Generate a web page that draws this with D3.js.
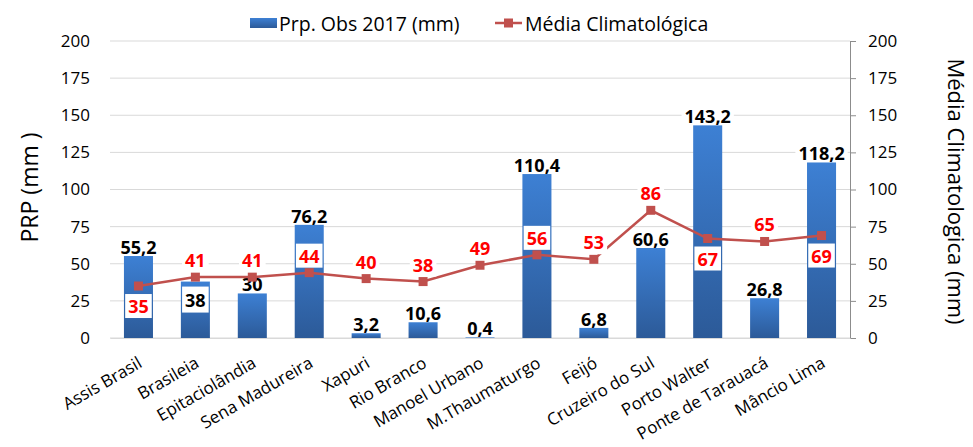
<!DOCTYPE html>
<html>
<head>
<meta charset="utf-8">
<script src="https://cdn.jsdelivr.net/npm/d3@7"></script>
<style>
  body { margin: 0; background: #fff; }
  text { font-family: "Open Sans", sans-serif; }
</style>
</head>
<body>
<div id="viz"></div>
<script>
// data
var cities = ['Assis Brasil', 'Brasileia', 'Epitaciolândia', 'Sena Madureira', 'Xapuri',
  'Rio Branco', 'Manoel Urbano', 'M.Thaumaturgo', 'Feijó', 'Cruzeiro do Sul',
  'Porto Walter', 'Ponte de Tarauacá', 'Mâncio Lima'];
var obs2017 = [55.2, 38, 30, 76.2, 3.2, 10.6, 0.4, 110.4, 6.8, 60.6, 143.2, 26.8, 118.2];
var climatologia = [35, 41, 41, 44, 40, 38, 49, 56, 53, 86, 67, 65, 69];
var yTicks = [0, 25, 50, 75, 100, 125, 150, 175, 200];
// where each data label sits
var barLabelPos = ['above', 'inside', 'above', 'above', 'above', 'above', 'above',
  'above', 'above', 'above', 'above', 'above', 'above'];
var lineLabelPos = ['below', 'above', 'above', 'above', 'above', 'above', 'above',
  'above', 'above', 'above', 'below', 'above', 'below'];

var width = 973, height = 447;
var margin = {top: 41, right: 123, bottom: 109, left: 110};
var plotW = width - margin.left - margin.right,
    plotH = height - margin.top - margin.bottom;

var fmt = function(v) { return String(v).replace('.', ','); };

var svg = d3.select('#viz').append('svg')
  .attr('width', width)
  .attr('height', height);

var defs = svg.append('defs');
var grad = defs.append('linearGradient')
  .attr('id', 'barGrad')
  .attr('x1', 0).attr('y1', 0).attr('x2', 0).attr('y2', 1);
grad.append('stop').attr('offset', '0%').attr('stop-color', '#3d80d4');
grad.append('stop').attr('offset', '100%').attr('stop-color', '#2c5a98');

var x = d3.scaleBand()
  .domain(cities)
  .range([0, plotW])
  .paddingInner(0.49)
  .paddingOuter(0.245);

var yL = d3.scaleLinear().domain([0, 200]).range([plotH, 0]);
var yR = d3.scaleLinear().domain([0, 200]).range([plotH, 0]);

var chart = svg.append('g')
  .attr('transform', 'translate(' + margin.left + ',' + margin.top + ')');

// gridlines
chart.append('g')
  .selectAll('line')
  .data(yTicks)
  .join('line')
  .attr('x1', 0)
  .attr('x2', plotW)
  .attr('y1', function(d) { return yL(d); })
  .attr('y2', function(d) { return yL(d); })
  .attr('stroke', '#d9d9d9')
  .attr('stroke-width', 1);

// left axis (labels only)
var leftAxis = chart.append('g')
  .call(d3.axisLeft(yL).tickValues(yTicks).tickSize(0).tickPadding(20));
leftAxis.select('.domain').remove();
leftAxis.selectAll('text')
  .attr('font-size', 17)
  .attr('fill', '#000')
  .style('font-family', '"Open Sans", sans-serif');

// right axis
var rightAxis = chart.append('g')
  .attr('transform', 'translate(' + plotW + ',0)')
  .call(d3.axisRight(yR).tickValues(yTicks).tickSize(6).tickSizeOuter(0).tickPadding(12));
rightAxis.select('.domain').attr('stroke', '#8c8c8c');
rightAxis.selectAll('.tick line').attr('stroke', '#8c8c8c');
rightAxis.selectAll('text')
  .attr('font-size', 17)
  .attr('fill', '#000')
  .style('font-family', '"Open Sans", sans-serif');

// x axis
var xAxis = chart.append('g')
  .attr('transform', 'translate(0,' + plotH + ')')
  .call(d3.axisBottom(x).tickSize(0));
xAxis.select('.domain').attr('stroke', '#d9d9d9');
xAxis.selectAll('text')
  .attr('font-size', 17)
  .attr('fill', '#000')
  .style('font-family', '"Open Sans", sans-serif')
  .attr('text-anchor', 'end')
  .attr('x', -10)
  .attr('y', 27)
  .attr('dy', 0)
  .attr('transform', 'rotate(-30)');

// bars
chart.append('g')
  .selectAll('rect')
  .data(obs2017)
  .join('rect')
  .attr('x', function(d, i) { return x(cities[i]); })
  .attr('y', function(d) { return yL(d); })
  .attr('width', x.bandwidth())
  .attr('height', function(d) { return plotH - yL(d); })
  .attr('fill', 'url(#barGrad)');

// data label with a white box behind it (box spans cy-up .. cy+down)
function addLabel(g, cx, cy, txt, color, up, down) {
  var t = g.append('text')
    .attr('x', cx)
    .attr('y', cy)
    .attr('text-anchor', 'middle')
    .attr('dominant-baseline', 'central')
    .attr('font-size', 18)
    .attr('font-weight', 'bold')
    .attr('fill', color)
    .text(txt);
  var bb = t.node().getBBox();
  g.insert('rect', function() { return t.node(); })
    .attr('x', bb.x - 3)
    .attr('y', cy - up)
    .attr('width', bb.width + 6)
    .attr('height', up + down)
    .attr('fill', '#fff');
}

var barLabels = chart.append('g');
obs2017.forEach(function(d, i) {
  var cx = x(cities[i]) + x.bandwidth() / 2;
  if (barLabelPos[i] === 'inside') {
    addLabel(barLabels, cx, yL(d) + 18, fmt(d), '#000', 13, 13);
  } else {
    addLabel(barLabels, cx, yL(d) - 9, fmt(d), '#000', 11, 8);
  }
});

// line
var line = d3.line()
  .x(function(d, i) { return x(cities[i]) + x.bandwidth() / 2; })
  .y(function(d) { return yR(d); });

chart.append('path')
  .attr('d', line(climatologia))
  .attr('fill', 'none')
  .attr('stroke', '#c0504d')
  .attr('stroke-width', 2.5);

chart.append('g')
  .selectAll('rect')
  .data(climatologia)
  .join('rect')
  .attr('x', function(d, i) { return x(cities[i]) + x.bandwidth() / 2 - 4.5; })
  .attr('y', function(d) { return yR(d) - 4.5; })
  .attr('width', 9)
  .attr('height', 9)
  .attr('fill', '#c0504d');

var lineLabels = chart.append('g');
climatologia.forEach(function(d, i) {
  var cx = x(cities[i]) + x.bandwidth() / 2;
  var cy = lineLabelPos[i] === 'below' ? yR(d) + 20 : yR(d) - 17;
  addLabel(lineLabels, cx, cy, fmt(d), '#ff0000', 12, 12);
});

// axis titles
svg.append('text')
  .attr('transform', 'translate(38,' + (margin.top + plotH / 2 - 2) + ') rotate(-90)')
  .attr('text-anchor', 'middle')
  .attr('font-size', 23)
  .text('PRP (mm )');

svg.append('text')
  .attr('transform', 'translate(948,' + (margin.top + plotH / 2 + 2) + ') rotate(90)')
  .attr('text-anchor', 'middle')
  .attr('font-size', 22)
  .text('Média Climatologica (mm)');

// legend
var legend = svg.append('g');
legend.append('rect')
  .attr('x', 250).attr('y', 18)
  .attr('width', 27).attr('height', 10)
  .attr('fill', 'url(#barGrad)');
legend.append('text')
  .attr('x', 279).attr('y', 23)
  .attr('dominant-baseline', 'central')
  .attr('font-size', 19.5)
  .text('Prp. Obs 2017 (mm)');
legend.append('line')
  .attr('x1', 495).attr('x2', 522)
  .attr('y1', 23).attr('y2', 23)
  .attr('stroke', '#c0504d')
  .attr('stroke-width', 2.5);
legend.append('rect')
  .attr('x', 504).attr('y', 18.5)
  .attr('width', 9).attr('height', 9)
  .attr('fill', '#c0504d');
legend.append('text')
  .attr('x', 525).attr('y', 23)
  .attr('dominant-baseline', 'central')
  .attr('font-size', 19.5)
  .text('Média Climatológica');
</script>
</body>
</html>
